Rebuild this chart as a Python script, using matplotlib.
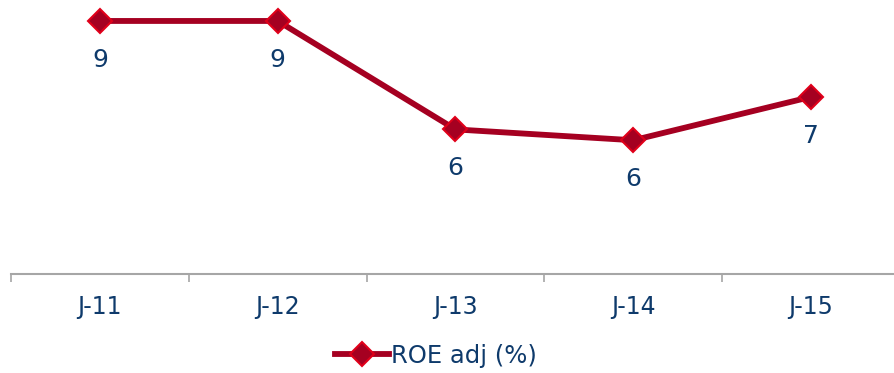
import matplotlib.pyplot as plt

years = ["J-11", "J-12", "J-13", "J-14", "J-15"]
roe_adj = [9.0, 9.0, 6.0, 5.7, 6.9]
point_labels = ["9", "9", "6", "6", "7"]

line_color = "#A50021"
edge_color = "#E0001A"
text_color = "#0E3A6B"

fig = plt.figure(figsize=(8.95, 3.73), dpi=100)
ax = fig.add_axes([11 / 895, 1 - 274 / 373, 889 / 895, 274 / 373])

x = list(range(len(years)))
ax.plot(x, roe_adj, color=line_color, linewidth=4.2, marker="D", markersize=12,
        markerfacecolor=line_color, markeredgecolor=edge_color, markeredgewidth=1.5,
        label="ROE adj (%)", clip_on=False, zorder=3)

# value labels under each point
for xi, v, lab in zip(x, roe_adj, point_labels):
    ax.annotate(lab, (xi, v), xytext=(0, -28), textcoords="offset points",
                ha="center", va="center", fontsize=18, color=text_color)

ax.set_xlim(-0.5, 4.5)
ax.set_ylim(2.0, 9.58)

# category axis with tick marks between groups
ax.set_xticks([i - 0.5 for i in range(len(years) + 1)])
ax.set_xticklabels([])
ax.set_xticks(x, minor=True)
ax.set_xticklabels(years, minor=True, fontsize=17, color=text_color)
ax.tick_params(axis="x", which="major", length=6, color="#A6A6A6", width=1.2)
ax.tick_params(axis="x", which="minor", length=0, pad=15)
ax.set_yticks([])

for side in ["top", "right", "left"]:
    ax.spines[side].set_visible(False)
ax.spines["bottom"].set_color("#A6A6A6")
ax.spines["bottom"].set_linewidth(1.5)

leg = fig.legend(loc="center", bbox_to_anchor=(436 / 895, 1 - 356 / 373), frameon=False,
                 fontsize=17.5, handlelength=2.2, handletextpad=0.1)
for t in leg.get_texts():
    t.set_color(text_color)

fig.savefig("out.png", dpi=100)
